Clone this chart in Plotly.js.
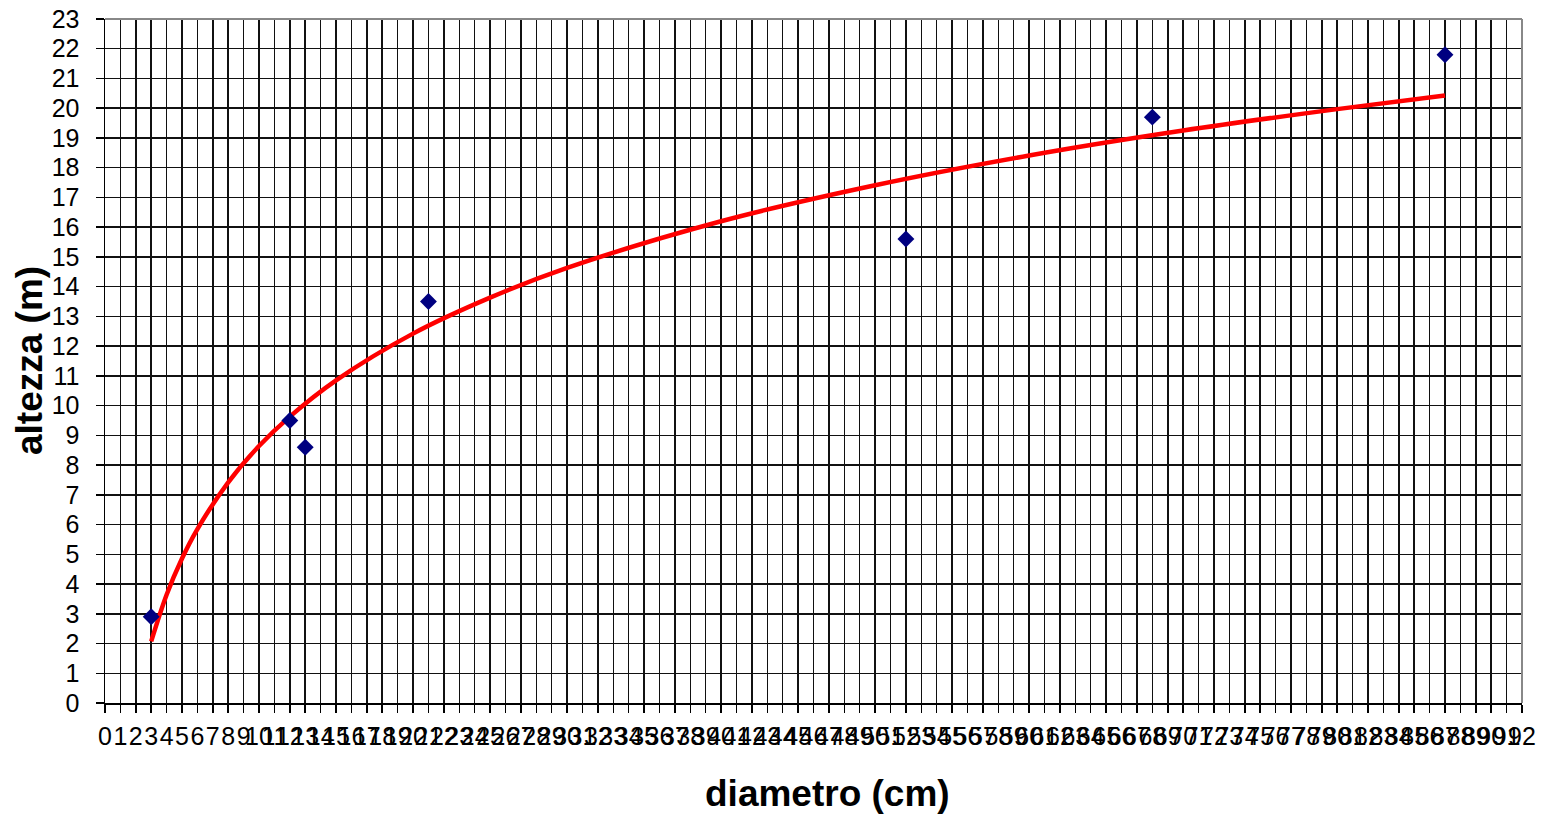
<!DOCTYPE html>
<html>
<head>
<meta charset="utf-8">
<script src="https://cdn.plot.ly/plotly-3.0.1.min.js"></script>
<style>
html,body{margin:0;padding:0;background:#fff;}
#chart{width:1544px;height:814px;}
</style>
</head>
<body>
<div id="chart"></div>
<script>
// Measured points (diametro cm, altezza m)
const diametro = [3, 12, 13, 21, 52, 68, 87];
const altezza = [2.9, 9.5, 8.6, 13.5, 15.6, 19.7, 21.8];

// Trend line (red curve) values
const trendX = [3, 4, 5, 6, 8, 10, 12, 15, 20, 25, 30, 40, 50, 60, 70, 80, 87];
const trendY = [2.07, 3.64, 4.86, 5.85, 7.42, 8.64, 9.63, 10.85, 12.42, 13.63, 14.63, 16.20, 17.41, 18.41, 19.25, 19.97, 20.43];

// Axis tick values / labels
const xTicks = Array.from({length: 93}, (_, i) => i);
const yTicks = Array.from({length: 24}, (_, i) => i);

const xTitle = 'diametro (cm)';
const yTitle = 'altezza (m)';

const traces = [
  {
    x: trendX, y: trendY, type: 'scatter', mode: 'lines',
    line: {color: '#ff0000', width: 4.5, shape: 'spline', smoothing: 1},
    hoverinfo: 'skip', showlegend: false
  },
  {
    x: diametro, y: altezza, type: 'scatter', mode: 'markers',
    marker: {symbol: 'diamond', color: '#000080', size: 13},
    showlegend: false
  }
];

const fontFam = '"Liberation Sans", Arial, sans-serif';

const layout = {
  width: 1544, height: 814,
  margin: {l: 105, r: 22, t: 19, b: 111},
  paper_bgcolor: '#ffffff', plot_bgcolor: '#ffffff',
  font: {family: fontFam, color: '#000'},
  showlegend: false,
  xaxis: {
    range: [0, 92], tickmode: 'array', tickvals: xTicks, ticktext: xTicks.map(String),
    tickangle: 0, tickfont: {size: 25, family: fontFam, color: '#000'},
    ticks: 'outside', ticklen: 8, tickwidth: 1.5, tickcolor: '#000',
    ticklabelstandoff: 2,
    showgrid: true, gridcolor: '#111', gridwidth: 1.5,
    zeroline: false, showline: true, linecolor: '#000', linewidth: 1.5,
    fixedrange: true
  },
  yaxis: {
    range: [0, 23], tickmode: 'array', tickvals: yTicks, ticktext: yTicks.map(String),
    tickfont: {size: 25, family: fontFam, color: '#000'},
    ticks: 'outside', ticklen: 8, tickwidth: 1.5, tickcolor: '#000',
    ticklabelstandoff: 11,
    showgrid: true, gridcolor: '#111', gridwidth: 1.5,
    zeroline: false, showline: true, linecolor: '#000', linewidth: 1.5,
    fixedrange: true
  },
  annotations: [
    {text: '<b>' + xTitle + '</b>', xref: 'paper', yref: 'paper', x: 0.5102, y: 0,
     xanchor: 'center', yanchor: 'middle', yshift: -90, showarrow: false,
     font: {size: 37, family: fontFam, color: '#000'}},
    {text: '<b>' + yTitle + '</b>', xref: 'paper', yref: 'paper', x: 0, y: 0.5,
     xanchor: 'center', yanchor: 'middle', xshift: -76, textangle: -90, showarrow: false,
     font: {size: 37, family: fontFam, color: '#000'}}
  ],
  shapes: [
    {type: 'line', xref: 'paper', yref: 'paper', x0: 0, x1: 1, y0: 1, y1: 1, line: {color: '#888', width: 2}},
    {type: 'line', xref: 'paper', yref: 'paper', x0: 1, x1: 1, y0: 0, y1: 1, line: {color: '#888', width: 2}}
  ]
};

Plotly.newPlot('chart', traces, layout, {displayModeBar: false, staticPlot: true});
</script>
</body>
</html>
